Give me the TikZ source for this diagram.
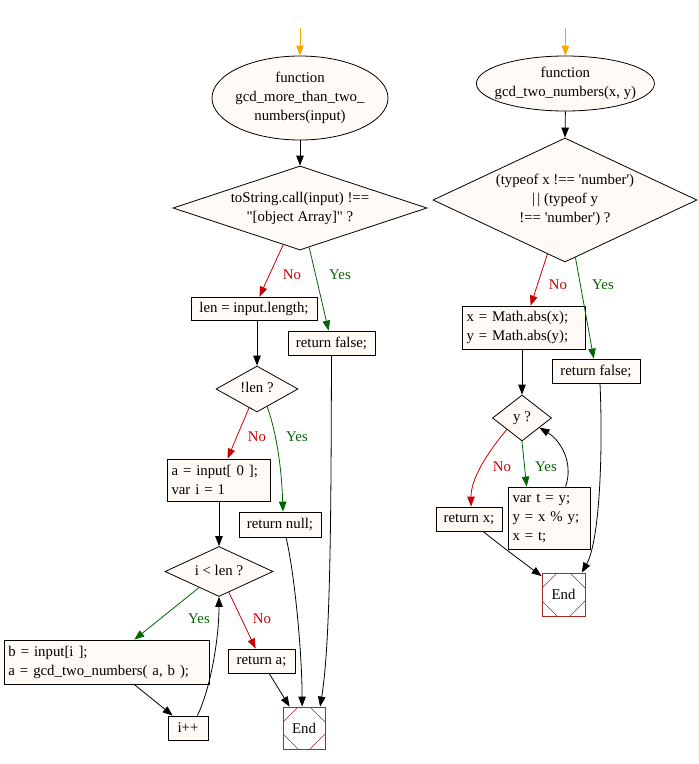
\documentclass[tikz,border=0pt]{standalone}
\usepackage{fontspec}
\setmainfont{Liberation Serif}
\usetikzlibrary{shapes.geometric,arrows.meta,calc}
\definecolor{nfill}{HTML}{FFFAF5}
\definecolor{noRed}{HTML}{CC0000}
\definecolor{yesGreen}{HTML}{006400}
\definecolor{endBrown}{HTML}{A52A2A}
\definecolor{startOrange}{HTML}{FFA500}
\newcommand{\ctext}[1]{\makebox[0pt]{\smash{\raisebox{-0.25em}{\begin{tabular}{@{}c@{}}#1\end{tabular}}}}}
\begin{document}
\begin{tikzpicture}[x=1pt,y=-1pt,font=\fontsize{14.8}{19}\selectfont,
  base/.style={draw,fill=nfill,line width=0.8pt,inner sep=0pt},
  term/.style={base,ellipse},
  cond/.style={base,diamond},
  stmt/.style={base,rectangle,inner xsep=4.5pt,align=left},
  stmtc/.style={base,rectangle,align=center},
  endbox/.style={draw=endBrown,fill=white,line width=0.8pt,minimum width=42pt,minimum height=42pt,inner sep=0pt,
    path picture={
      \draw[endBrown,line width=0.6pt]
        ([yshift=-15pt]path picture bounding box.north west) -- ([xshift=15pt]path picture bounding box.north west)
        ([xshift=-15pt]path picture bounding box.north east) -- ([yshift=-15pt]path picture bounding box.north east)
        ([yshift=15pt]path picture bounding box.south east) -- ([xshift=-15pt]path picture bounding box.south east)
        ([xshift=15pt]path picture bounding box.south west) -- ([yshift=15pt]path picture bounding box.south west);}},
  flow/.style={line width=0.8pt,-{Triangle[length=10pt,width=7.5pt]}},
  noedge/.style={flow,draw=noRed},
  yesedge/.style={flow,draw=yesGreen},
  nolbl/.style={inner sep=0pt,text=noRed},
  yeslbl/.style={inner sep=0pt,text=yesGreen}]
\path[use as bounding box,fill=white] (0,0) rectangle (699,764);

% ---------- left flow ----------
\coordinate (s1) at (300,28);
\node[term,minimum width=176pt,minimum height=84pt] (e1) at (300,98) {\ctext{function\\gcd\_more\_than\_two\_\\numbers(input)}};
\node[cond,minimum width=254pt,minimum height=84pt] (d1) at (300,208) {\ctext{toString.call(input) !==\\\textquotedbl[object Array]\textquotedbl{} ?}};
\node[stmtc,minimum width=126pt,minimum height=23pt] (len) at (254,308.5) {len = input.length;};
\node[stmtc,minimum width=87pt,minimum height=24pt] (rf) at (331.5,343) {return false;};
\node[cond,minimum width=82pt,minimum height=46pt] (ld) at (257,389) {\ctext{!len ?}};
\node[stmt,text width=94pt,minimum width=103pt,minimum height=42pt] (a0) at (218.5,480) {a = input[ 0 ];\\var i = 1};
\node[stmtc,minimum width=82pt,minimum height=25pt] (rn) at (280,524.5) {return null;};
\node[cond,minimum width=108pt,minimum height=50pt] (il) at (219,571.5) {\ctext{i < len ?}};
\node[stmt,text width=196pt,minimum width=205pt,minimum height=44pt] (b) at (106.5,662) {b = input[i ];\\a = gcd\_two\_numbers( a, b );};
\node[stmtc,minimum width=67pt,minimum height=24pt] (ra) at (261.5,661) {return a;};
\node[stmtc,minimum width=40pt,minimum height=24pt] (ipp) at (188,728) {i++};
\node[endbox] (endL) at (304,728) {End};

\draw[flow,draw=startOrange] (s1) -- (e1.north);
\draw[flow] (e1.south) -- (d1.north);
\draw[noedge] (d1) -- (len);
\draw[yesedge] (d1) -- (rf);
\draw[flow] (len.south -| ld.north) -- (ld.north);
\draw[noedge] (ld) -- (a0);
\draw[yesedge] (ld.-60) .. controls (279,440) and (282,480) .. ([xshift=3pt]rn.north);
\draw[flow] (il.north |- a0.south) -- (il.north);
\draw[yesedge] (il) -- (b);
\draw[noedge] (il) -- (ra);
\draw[flow] (b) -- (ipp);
\draw[flow] (ipp.53) .. controls (210,690) and (219,640) .. (il.south);
\draw[flow] (ra) -- (endL.124);
\draw[flow] (rn.-65) .. controls (294,570) and (302,650) .. (endL.95);
\draw[flow] (rf.south) .. controls (331,500) and (331,640) .. (endL.53);

\node[nolbl] (n1) at (292,274.5) {No};
\node[yeslbl] (y1) at (340,274.5) {Yes};
\node[nolbl] (n2) at (257,437) {No};
\node[yeslbl] (y2) at (297,437) {Yes};
\node[yeslbl] (y3) at (199,619) {Yes};
\node[nolbl] (n3) at (262,619) {No};

% ---------- right flow ----------
\coordinate (s2) at (565.4,28);
\node[term,minimum width=178pt,minimum height=55pt] (e2) at (565.4,83.5) {\ctext{function\\gcd\_two\_numbers(x, y)}};
\node[cond,minimum width=264pt,minimum height=124pt] (d2) at (565,200) {\ctext{(typeof x !== \textquotesingle number\textquotesingle)\\|\,| (typeof y\\!== \textquotesingle number\textquotesingle) ?}};
\node[stmt,text width=114pt,minimum width=123pt,minimum height=43pt] (xa) at (523.5,327.5) {x = Math.abs(x);\\y = Math.abs(y);};
\node[stmtc,minimum width=88pt,minimum height=24pt] (rf2) at (596,371) {return false;};
\node[cond,minimum width=59pt,minimum height=46pt] (yq) at (522,418) {\ctext{y ?}};
\node[stmtc,minimum width=66pt,minimum height=24pt] (rx) at (469,519) {return x;};
\node[stmt,text width=73pt,minimum width=82pt,minimum height=62pt] (vt) at (549,518) {var t = y;\\y = x \% y;\\x = t;};
\node[endbox,minimum width=43pt,minimum height=43pt] (endR) at (563.5,594.5) {End};

\draw[flow,draw=startOrange] (s2) -- (e2.north);
\draw[flow] (e2.south) -- (d2.north);
\draw[noedge] (d2) -- (xa);
\draw[yesedge] (d2) -- (rf2);
\draw[flow] (xa.south -| yq.north) -- (yq.north);
\draw[noedge] (yq.217) .. controls (488,452) and (471,478) .. ([xshift=2pt]rx.north);
\draw[yesedge] (yq.south) -- ([xshift=19pt]vt.north west);
\draw[flow] ([xshift=58pt]vt.north west) .. controls (574,462) and (560,440) .. (yq.-29);
\draw[flow] ([xshift=14pt]rx.south) .. controls (500,545) and (520,560) .. (endR.140);
\draw[flow] ([xshift=4pt]rf2.south) .. controls (603,450) and (600,540) .. (endR.50);

\node[nolbl] (n4) at (558,285) {No};
\node[yeslbl] (y4) at (603,285) {Yes};
\node[nolbl] (n5) at (502,467) {No};
\node[yeslbl] (y5) at (546,467) {Yes};
\end{tikzpicture}
\end{document}
